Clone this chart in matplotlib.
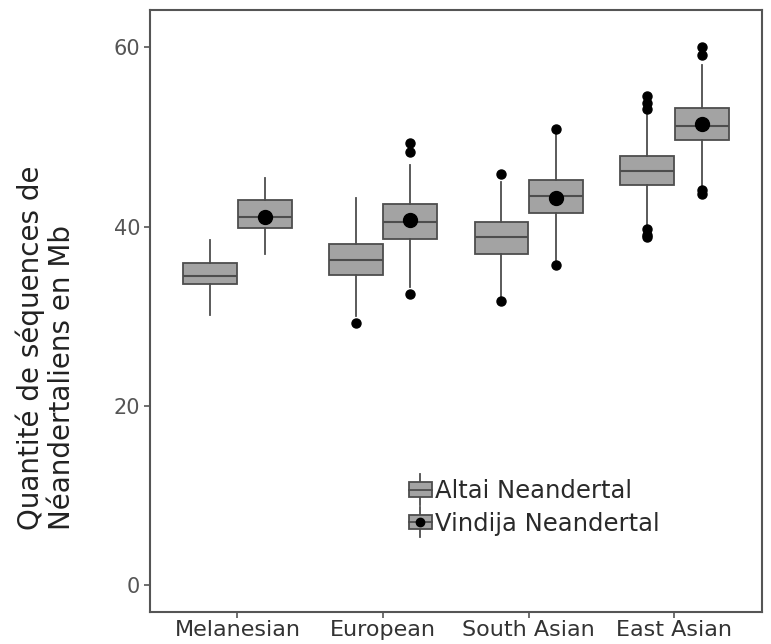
import matplotlib
matplotlib.use("Agg")
import matplotlib.pyplot as plt
from matplotlib.patches import Rectangle
from matplotlib.lines import Line2D
from matplotlib.legend_handler import HandlerBase

plt.rcParams['font.family'] = ['DejaVu Sans']

groups = ['Melanesian', 'European', 'South Asian', 'East Asian']

# Altai Neandertal: whisker low, q1, median, q3, whisker high
altai_whislo = [30.2, 30.0, 32.2, 40.2]
altai_q1 = [33.6, 34.6, 36.95, 44.65]
altai_med = [34.45, 36.3, 38.85, 46.25]
altai_q3 = [36.0, 38.1, 40.5, 47.85]
altai_whishi = [38.5, 43.2, 45.0, 52.5]
altai_fliers = [[], [29.3], [31.7, 45.9], [38.8, 39.1, 39.7, 53.1, 53.8, 54.6]]

# Vindija Neandertal
vindija_whislo = [36.9, 33.3, 36.3, 44.3]
vindija_q1 = [39.85, 38.65, 41.5, 49.7]
vindija_med = [41.1, 40.5, 43.4, 51.2]
vindija_q3 = [43.0, 42.5, 45.2, 53.2]
vindija_whishi = [45.4, 46.85, 50.3, 58.1]
vindija_fliers = [[], [32.5, 48.3, 49.3], [35.7, 50.9], [43.6, 44.05, 59.2, 60.1]]
vindija_mean = [41.1, 40.8, 43.2, 51.5]

box_fc = '#a3a3a3'
edge = '#4d4d4d'

fig = plt.figure(figsize=(7.71, 6.44), dpi=100)
ax = fig.add_axes([0.1946, 0.0497, 0.7935, 0.935])


def stats(lo, q1, med, q3, hi, fl):
    return [dict(whislo=lo[i], q1=q1[i], med=med[i], q3=q3[i], whishi=hi[i],
                 fliers=fl[i]) for i in range(len(lo))]


x = list(range(1, len(groups) + 1))
for st, off in [(stats(altai_whislo, altai_q1, altai_med, altai_q3, altai_whishi, altai_fliers), -0.1875),
                (stats(vindija_whislo, vindija_q1, vindija_med, vindija_q3, vindija_whishi, vindija_fliers), 0.1875)]:
    ax.bxp(st, positions=[p + off for p in x], widths=0.37, patch_artist=True,
           showcaps=False, manage_ticks=False,
           boxprops=dict(facecolor=box_fc, edgecolor=edge, linewidth=1.3),
           medianprops=dict(color=edge, linewidth=1.5),
           whiskerprops=dict(color=edge, linewidth=1.3),
           flierprops=dict(marker='o', markerfacecolor='black', markeredgecolor='black',
                           markersize=6.5))

ax.plot([p + 0.1875 for p in x], vindija_mean, 'o', color='black', markersize=10, zorder=5)


class BoxHandler(HandlerBase):
    def __init__(self, dot):
        super().__init__()
        self.dot = dot

    def create_artists(self, legend, orig_handle, xdescent, ydescent, width, height, fontsize, trans):
        cx = width / 2 - xdescent
        cy = height / 2 - ydescent
        bw = width
        bh = height * 0.8
        arts = [Line2D([cx, cx], [cy - height * 0.85, cy + height * 0.85], color=edge, lw=1.3,
                       transform=trans),
                Rectangle((cx - bw / 2, cy - bh / 2), bw, bh, facecolor=box_fc, edgecolor=edge,
                          lw=1.3, transform=trans),
                Line2D([cx - bw / 2, cx + bw / 2], [cy, cy], color=edge, lw=1.3, transform=trans)]
        if self.dot:
            arts.append(Line2D([cx], [cy], marker='o', color='black', markersize=6, transform=trans))
        return arts


h1 = Rectangle((0, 0), 1, 1)
h2 = Rectangle((0, 0), 1, 1)
ax.legend([h1, h2], ['Altai Neandertal', 'Vindija Neandertal'],
          handler_map={h1: BoxHandler(False), h2: BoxHandler(True)},
          loc='upper left', bbox_to_anchor=(0.407, 0.237), frameon=False,
          prop=dict(size=17.5), handlelength=0.95, handleheight=0.75, handletextpad=0.15,
          labelspacing=0.35, borderaxespad=0, labelcolor='#2a2a2a')

ax.set_xlim(0.4, 4.6)
ax.set_ylim(-3.0, 64.2)
ax.set_xticks(x)
ax.set_xticklabels(groups, fontsize=16, color='#333333')
ax.set_yticks([0, 20, 40, 60])
ax.set_yticklabels(['0', '20', '40', '60'], fontsize=15, color='#555555')
ax.tick_params(length=4, width=1.2, color='#555555')
ax.tick_params(axis='x', pad=1.5)
ax.tick_params(axis='y', pad=3)
for s in ax.spines.values():
    s.set_color('#555555')
    s.set_linewidth(1.5)

fig.text(0.039, 0.177, 'Quantité de séquences de', rotation=90, ha='center', va='bottom',
         fontsize=20, color='#222222')
fig.text(0.081, 0.177, 'Néandertaliens en Mb', rotation=90, ha='center', va='bottom',
         fontsize=20, color='#222222')

fig.savefig('out.png', dpi=100)
